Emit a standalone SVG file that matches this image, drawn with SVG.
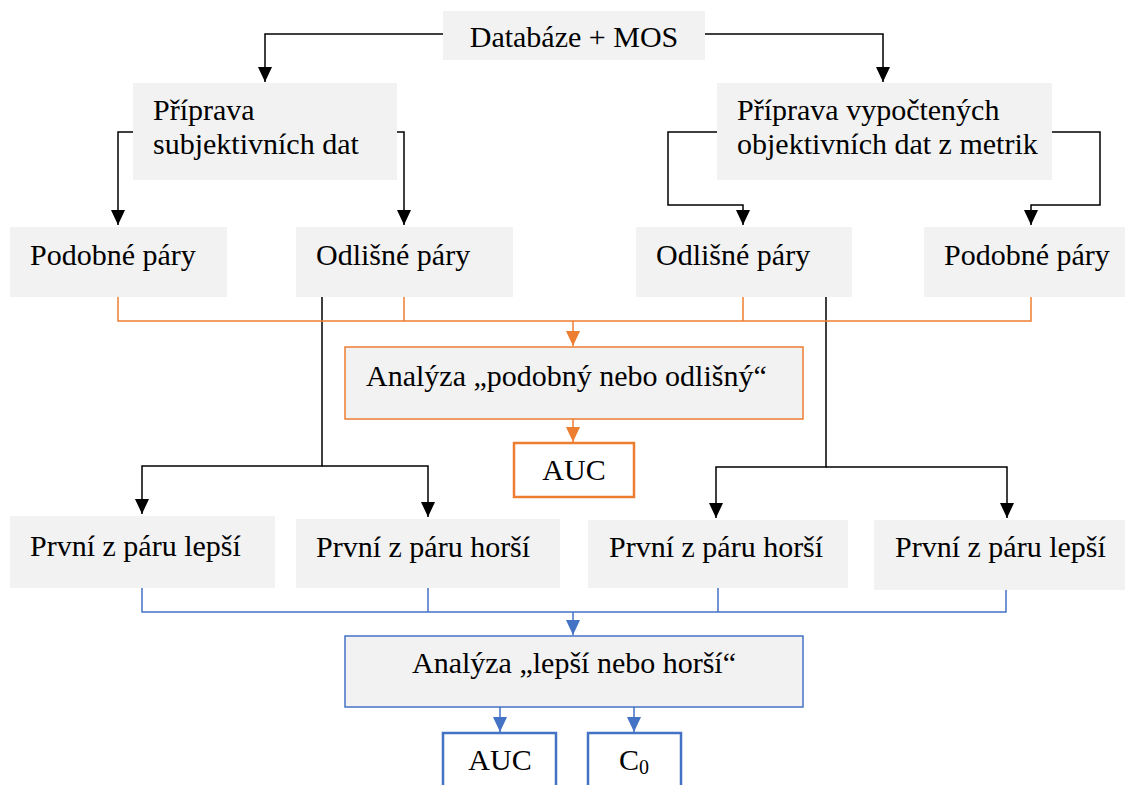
<svg xmlns="http://www.w3.org/2000/svg" width="1125" height="785" viewBox="0 0 1125 785">
<style>
.box{fill:#f2f2f2;stroke:none}
.t{font-family:"Liberation Serif","Times New Roman",serif;font-size:30px;fill:#000}
.k{fill:none;stroke:#000;stroke-width:1.5}
.o{fill:none;stroke:#ed7d31;stroke-width:1.5}
.b{fill:none;stroke:#4472c4;stroke-width:1.5}
</style>
<defs>
<marker id="ak" markerUnits="userSpaceOnUse" markerWidth="14" markerHeight="16" refX="7" refY="15" orient="0" viewBox="0 0 14 16"><path d="M0,0 L14,0 L7,15 Z" fill="#000"/></marker>
<marker id="ao" markerUnits="userSpaceOnUse" markerWidth="14" markerHeight="16" refX="7" refY="15" orient="0" viewBox="0 0 14 16"><path d="M0,0 L14,0 L7,15 Z" fill="#ed7d31"/></marker>
<marker id="ab" markerUnits="userSpaceOnUse" markerWidth="14" markerHeight="16" refX="7" refY="15" orient="0" viewBox="0 0 14 16"><path d="M0,0 L14,0 L7,15 Z" fill="#4472c4"/></marker>
</defs>
<g id="connectors">
<path class="k" d="M443,34 H265 V82" marker-end="url(#ak)"/>
<path class="k" d="M705,34 H883 V82" marker-end="url(#ak)"/>
<path class="k" d="M133,132 H118 V225" marker-end="url(#ak)"/>
<path class="k" d="M397,132 H404 V225" marker-end="url(#ak)"/>
<path class="k" d="M717,132 H668 V205 H743 V225" marker-end="url(#ak)"/>
<path class="k" d="M1052,132 H1100 V205 H1031 V225" marker-end="url(#ak)"/>
<path class="k" d="M322,297 V466 H142 V514" marker-end="url(#ak)"/>
<path class="k" d="M322,466 H428 V517" marker-end="url(#ak)"/>
<path class="k" d="M826,297 V467 H716 V518" marker-end="url(#ak)"/>
<path class="k" d="M826,467 H1007 V518" marker-end="url(#ak)"/>
<path class="o" d="M118,297 V321 H1031 V297 M404,297 V321 M743,297 V321"/>
<path class="o" d="M573,321 V346" marker-end="url(#ao)"/>
<path class="o" d="M573,419 V442" marker-end="url(#ao)"/>
<path class="b" d="M142,588 V612 H1006 V590 M428,588 V612 M718,588 V612"/>
<path class="b" d="M573,612 V635" marker-end="url(#ab)"/>
<path class="b" d="M500,707 V732" marker-end="url(#ab)"/>
<path class="b" d="M634,707 V732" marker-end="url(#ab)"/>
</g>
<g id="db"><rect class="box" x="443" y="11" width="262" height="49"/><text class="t" x="574" y="47" text-anchor="middle">Databáze + MOS</text></g>
<g id="prep-subj"><rect class="box" x="133" y="83" width="264" height="97"/><text class="t" x="153" y="120">Příprava</text><text class="t" x="153" y="154">subjektivních dat</text></g>
<g id="prep-obj"><rect class="box" x="717" y="83" width="335" height="97"/><text class="t" x="737" y="120">Příprava vypočtených</text><text class="t" x="737" y="154">objektivních dat z metrik</text></g>
<g id="sim-l"><rect class="box" x="10" y="227" width="217" height="70"/><text class="t" x="30" y="265">Podobné páry</text></g>
<g id="dif-l"><rect class="box" x="296" y="227" width="217" height="70"/><text class="t" x="316" y="265">Odlišné páry</text></g>
<g id="dif-r"><rect class="box" x="636" y="227" width="216" height="70"/><text class="t" x="656" y="265">Odlišné páry</text></g>
<g id="sim-r"><rect class="box" x="924" y="227" width="201" height="70"/><text class="t" x="944" y="265">Podobné páry</text></g>
<g id="an1"><rect x="345" y="347" width="458" height="72" fill="#f2f2f2" stroke="#ed7d31" stroke-width="1.5"/><text class="t" x="366" y="386">Analýza „podobný nebo odlišný“</text></g>
<g id="auc1"><rect x="514" y="443" width="120" height="54" fill="#fff" stroke="#ed7d31" stroke-width="2.5"/><text class="t" x="574" y="480" text-anchor="middle">AUC</text></g>
<g id="better-l"><rect class="box" x="10" y="516" width="265" height="72"/><text class="t" x="30" y="556">První z páru lepší</text></g>
<g id="worse-l"><rect class="box" x="296" y="519" width="264" height="69"/><text class="t" x="316" y="557">První z páru horší</text></g>
<g id="worse-r"><rect class="box" x="588" y="520" width="260" height="68"/><text class="t" x="609" y="557">První z páru horší</text></g>
<g id="better-r"><rect class="box" x="874" y="520" width="251" height="70"/><text class="t" x="895" y="557">První z páru lepší</text></g>
<g id="an2"><rect x="345" y="636" width="458" height="71" fill="#f2f2f2" stroke="#4472c4" stroke-width="1.5"/><text class="t" x="574" y="673" text-anchor="middle">Analýza „lepší nebo horší“</text></g>
<g id="auc2"><rect x="443" y="733" width="113" height="60" fill="#fff" stroke="#4472c4" stroke-width="2.5"/><text class="t" x="500" y="770" text-anchor="middle">AUC</text></g>
<g id="c0"><rect x="588" y="733" width="93" height="60" fill="#fff" stroke="#4472c4" stroke-width="2.5"/><text class="t" x="634" y="770" text-anchor="middle">C<tspan font-size="20" dy="4">0</tspan></text></g>
</svg>
